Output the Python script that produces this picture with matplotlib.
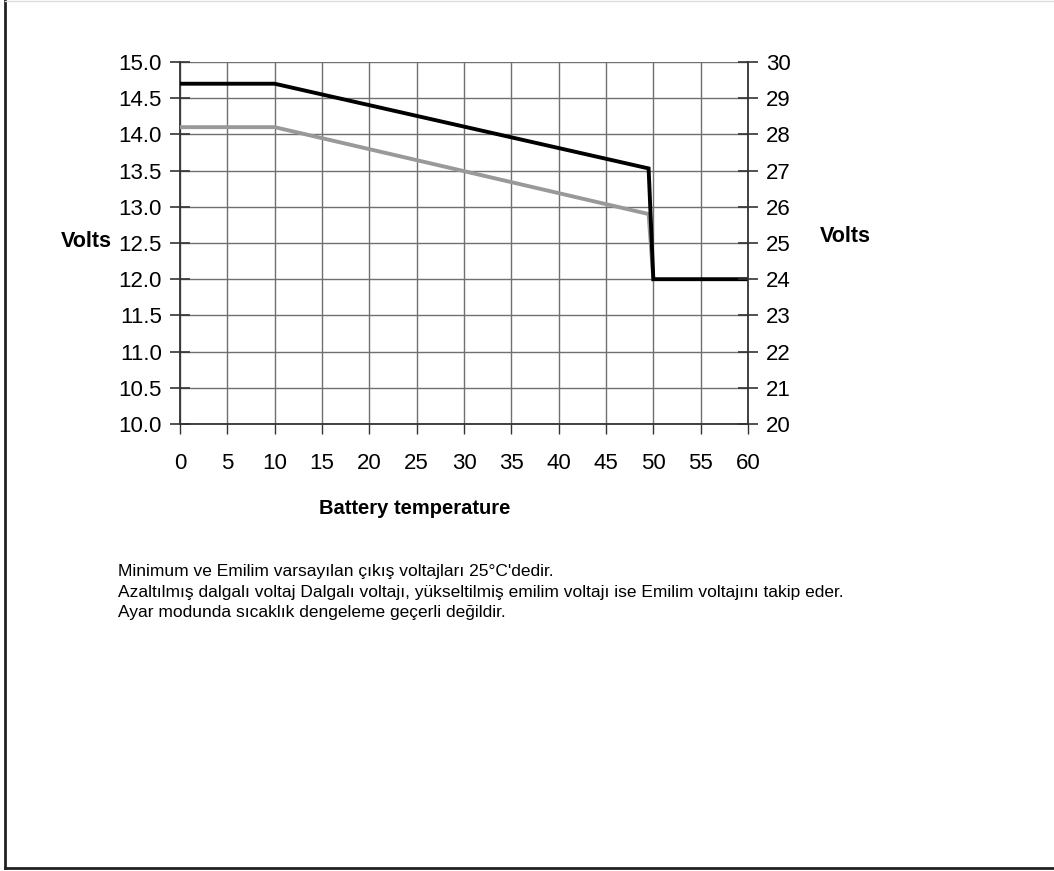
import matplotlib
matplotlib.use('Agg')
import matplotlib.pyplot as plt
from matplotlib import font_manager
from matplotlib.lines import Line2D

# data
temp_charge = [0, 10, 49.5, 50, 60]
volts_charge = [14.7, 14.7, 13.53, 12.0, 12.0]
temp_float = [0, 10, 49.5, 50]
volts_float = [14.1, 14.1, 12.9, 12.0]
x_ticks = list(range(0, 61, 5))
left_ticks = [10.0, 10.5, 11.0, 11.5, 12.0, 12.5, 13.0, 13.5, 14.0, 14.5, 15.0]
right_ticks = list(range(20, 31))
notes = [
    "Minimum ve Emilim varsayılan çıkış voltajları 25°C'dedir.",
    "Azaltılmış dalgalı voltaj Dalgalı voltajı, yükseltilmiş emilim voltajı ise Emilim voltajını takip eder.",
    "Ayar modunda sıcaklık dengeleme geçerli değildir.",
]

names = {f.name for f in font_manager.fontManager.ttflist}
narrow = 'Liberation Sans Narrow' if 'Liberation Sans Narrow' in names else 'Liberation Sans'
plt.rcParams['font.family'] = ['Liberation Sans', 'DejaVu Sans']

fig = plt.figure(figsize=(10.54, 8.71), dpi=100)
ax = fig.add_axes([180 / 1054, 1 - 424 / 871, 568 / 1054, 362 / 871])

ax.plot(temp_float, volts_float, color='#999999', lw=2.8, solid_joinstyle='miter', zorder=3)
ax.plot(temp_charge, volts_charge, color='black', lw=2.8, solid_joinstyle='miter', zorder=4)

ax.set_xlim(0, 60)
ax.set_ylim(10, 15)
ax.set_xticks(x_ticks)
ax.set_yticks(left_ticks)
ax.set_yticklabels(['%.1f' % v for v in left_ticks], fontsize=16)
ax.set_xticklabels([str(v) for v in x_ticks], fontsize=16, family=narrow)
ax.grid(True, color='#707070', lw=1)
ax.set_axisbelow(True)
for s in ['top', 'right']:
    ax.spines[s].set_visible(False)
for s in ['left', 'bottom']:
    ax.spines[s].set_color('#333333')
    ax.spines[s].set_linewidth(1.3)
ax.tick_params(axis='y', direction='inout', length=14, width=1.2, color='#333333', pad=6)
ax.tick_params(axis='x', direction='out', length=7, width=1, color='#333333', pad=14)

ax2 = ax.twinx()
ax2.set_ylim(20, 30)
ax2.set_yticks(right_ticks)
ax2.set_yticklabels([str(v) for v in right_ticks], fontsize=16)
for s in ['top', 'left', 'bottom']:
    ax2.spines[s].set_visible(False)
ax2.spines['right'].set_color('#333333')
ax2.spines['right'].set_linewidth(1.3)
ax2.tick_params(axis='y', direction='inout', length=14, width=1.2, color='#333333', pad=6)

fig.text(112 / 1054, 1 - 241 / 871, 'Volts', fontsize=15.5, fontweight='bold', ha='right', va='center')
fig.text(820 / 1054, 1 - 236 / 871, 'Volts', fontsize=15.5, fontweight='bold', ha='left', va='center')
fig.text(415 / 1054, 1 - 508 / 871, 'Battery temperature', fontsize=14.5, fontweight='bold',
         family=narrow, ha='center', va='center')

for i, line in enumerate(notes):
    fig.text(118 / 1054, 1 - (571 + 21 * i) / 871, line, fontsize=12.5, ha='left', va='center')

# frame round the picture
fig.add_artist(Line2D([5 / 1054, 5 / 1054], [1 - 868 / 871, 1], color='#222222', lw=2))
fig.add_artist(Line2D([5 / 1054, 1], [1 - 868 / 871, 1 - 868 / 871], color='#222222', lw=2))
fig.add_artist(Line2D([5 / 1054, 1], [0.999, 0.999], color='#dddddd', lw=1))

fig.savefig('out.png', dpi=100)
